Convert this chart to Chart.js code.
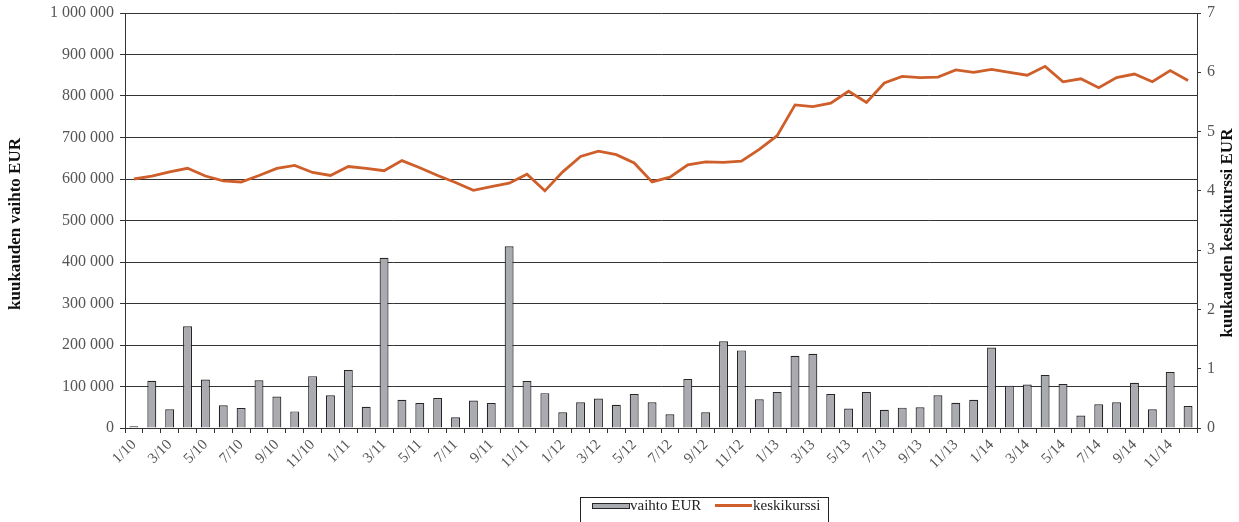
<!DOCTYPE html>
<html>
<head>
<meta charset="utf-8">
<script src="https://cdn.jsdelivr.net/npm/chart.js@4.4.1/dist/chart.umd.min.js"></script>
<style>
  body { margin: 0; background: #fff; }
  #wrap { width: 1239px; height: 522px; }
</style>
</head>
<body>
<div id="wrap"><canvas id="chart" width="1239" height="522"></canvas></div>
<script>
// months 1/10 .. 12/14
const months = [
  "1/10", "2/10", "3/10", "4/10", "5/10", "6/10", "7/10", "8/10", "9/10", "10/10", "11/10", "12/10",
  "1/11", "2/11", "3/11", "4/11", "5/11", "6/11", "7/11", "8/11", "9/11", "10/11", "11/11", "12/11",
  "1/12", "2/12", "3/12", "4/12", "5/12", "6/12", "7/12", "8/12", "9/12", "10/12", "11/12", "12/12",
  "1/13", "2/13", "3/13", "4/13", "5/13", "6/13", "7/13", "8/13", "9/13", "10/13", "11/13", "12/13",
  "1/14", "2/14", "3/14", "4/14", "5/14", "6/14", "7/14", "8/14", "9/14", "10/14", "11/14", "12/14",
];

// kuukauden vaihto EUR (left axis)
const vaihto = [
  4000, 114000, 45000, 245000, 117000, 55000, 48000, 115000, 76000, 40000, 125000, 79000,
  140000, 51000, 410000, 68000, 60000, 72000, 26000, 66000, 60000, 438000, 113000, 84000,
  38000, 62000, 71000, 56000, 82000, 62000, 33000, 118000, 38000, 209000, 187000, 69000,
  87000, 174000, 179000, 82000, 47000, 87000, 44000, 49000, 50000, 79000, 61000, 68000,
  194000, 102000, 105000, 128000, 106000, 30000, 57000, 62000, 109000, 45000, 135000, 53000,
];

// kuukauden keskikurssi EUR (right axis)
const keskikurssi = [
  4.20, 4.25, 4.32, 4.38, 4.25, 4.17, 4.15, 4.26, 4.38, 4.43, 4.31, 4.26,
  4.41, 4.38, 4.34, 4.51, 4.39, 4.26, 4.14, 4.01, 4.07, 4.13, 4.28, 4.00,
  4.32, 4.58, 4.67, 4.61, 4.47, 4.15, 4.23, 4.44, 4.49, 4.48, 4.50, 4.70,
  4.93, 5.45, 5.42, 5.48, 5.68, 5.49, 5.82, 5.93, 5.91, 5.92, 6.04, 6.00,
  6.05, 6.00, 5.95, 6.10, 5.84, 5.89, 5.74, 5.91, 5.97, 5.84, 6.03, 5.86,
];

const leftTitle = "kuukauden vaihto EUR";
const rightTitle = "kuukauden keskikurssi EUR";
const barLabel = "vaihto EUR";
const lineLabel = "keskikurssi";

const serif = "'Liberation Serif', 'DejaVu Serif', serif";
const barFill = "#aaabb0";
const barEdge = "#262626";
const lineColor = "#cf5f2a";
const gridColor = "#333333";
const tickColor = "#555555";

function spaced(v) {
  return String(v).replace(/\B(?=(\d{3})+(?!\d))/g, " ");
}

// axis titles (right one reads bottom-to-top) and boxed legend
const extras = {
  id: "extras",
  afterDraw(chart) {
    const ctx = chart.ctx;
    ctx.save();
    ctx.fillStyle = "#111";
    ctx.font = "bold 17px " + serif;
    ctx.textAlign = "center";
    ctx.textBaseline = "middle";
    ctx.save();
    ctx.translate(16, 224);
    ctx.rotate(-Math.PI / 2);
    ctx.fillText(leftTitle, 0, 0);
    ctx.restore();
    ctx.save();
    ctx.translate(1228, 233);
    ctx.rotate(-Math.PI / 2);
    ctx.fillText(rightTitle, 0, 0);
    ctx.restore();

    // legend box
    ctx.strokeStyle = "#222";
    ctx.lineWidth = 1;
    ctx.strokeRect(580.5, 497.5, 248, 30);
    ctx.fillStyle = barFill;
    ctx.fillRect(592, 503, 37, 5);
    ctx.strokeStyle = barEdge;
    ctx.strokeRect(592.5, 503.5, 37, 5);
    ctx.strokeStyle = lineColor;
    ctx.lineWidth = 3;
    ctx.beginPath();
    ctx.moveTo(715, 505.5);
    ctx.lineTo(752, 505.5);
    ctx.stroke();
    ctx.fillStyle = "#222";
    ctx.font = "15px " + serif;
    ctx.textAlign = "left";
    ctx.fillText(barLabel, 630, 506);
    ctx.fillText(lineLabel, 753, 506);
    ctx.restore();
  },
};

// fixed axis box sizes so the plot area matches the original
function fixV(width) {
  return (s) => {
    s.width = width;
    s.paddingTop = 0;
    s.paddingBottom = 0;
  };
}

new Chart(document.getElementById("chart").getContext("2d"), {
  data: {
    labels: months,
    datasets: [
      {
        type: "line",
        label: lineLabel,
        data: keskikurssi,
        yAxisID: "y1",
        borderColor: lineColor,
        borderWidth: 2.8,
        pointRadius: 0,
        tension: 0,
        order: 0,
      },
      {
        type: "bar",
        label: barLabel,
        data: vaihto,
        yAxisID: "y",
        backgroundColor: barFill,
        borderColor: barEdge,
        borderWidth: 1.2,
        barPercentage: 0.5,
        categoryPercentage: 1,
        order: 1,
      },
    ],
  },
  options: {
    responsive: false,
    animation: false,
    layout: { padding: { top: 13, bottom: 29, left: 0, right: 0 } },
    plugins: { legend: { display: false }, tooltip: { enabled: false } },
    scales: {
      x: {
        offset: true,
        grid: { drawOnChartArea: false, tickLength: 5, color: gridColor, offset: true },
        border: { color: gridColor },
        ticks: {
          autoSkip: false,
          maxRotation: 45,
          minRotation: 45,
          padding: 3,
          color: tickColor,
          font: { family: serif, size: 15 },
          callback: (v, i) => (i % 2 === 0 ? months[i] : ""),
        },
        afterFit: (s) => {
          s.height = 65;
          s.paddingLeft = 0;
          s.paddingRight = 0;
        },
      },
      y: {
        position: "left",
        min: 0,
        max: 1000000,
        grid: { color: gridColor, tickLength: 5 },
        border: { color: gridColor },
        ticks: {
          stepSize: 100000,
          padding: 6,
          color: tickColor,
          font: { family: serif, size: 16 },
          callback: (v) => spaced(v),
        },
        afterFit: fixV(125),
      },
      y1: {
        position: "right",
        min: 0,
        max: 7,
        grid: { drawOnChartArea: false, tickLength: 4, color: gridColor },
        border: { color: gridColor },
        ticks: {
          stepSize: 1,
          padding: 6,
          color: tickColor,
          font: { family: serif, size: 16 },
        },
        afterFit: fixV(42),
      },
    },
  },
  plugins: [extras],
});
</script>
</body>
</html>
